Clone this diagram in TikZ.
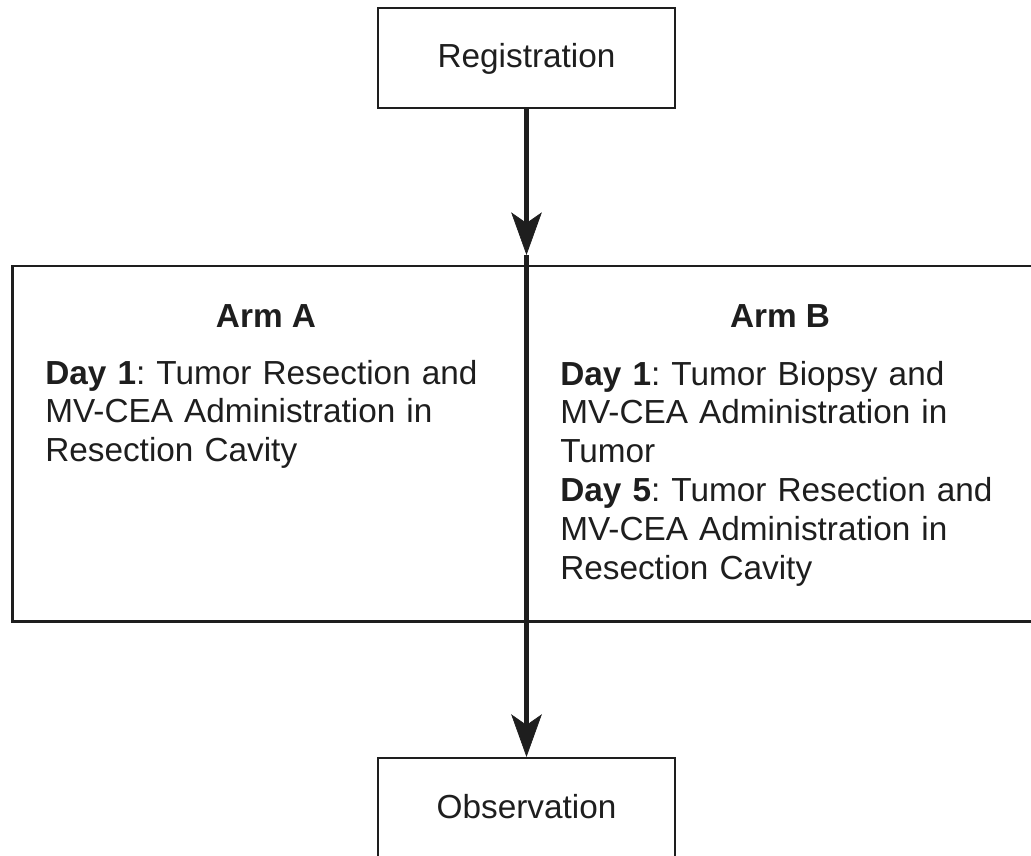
\documentclass[tikz,border=0pt]{standalone}
\usepackage{fontspec}
\setmainfont{Liberation Sans}
\usepackage{tikz}
\usetikzlibrary{arrows.meta}
\frenchspacing

\definecolor{ink}{HTML}{1E1E1E}
\tikzset{
  stage/.style={draw=ink, text=ink, line width=1.6pt, inner sep=0pt, minimum width=222.75pt, minimum height=75pt, text height=18pt, text depth=3pt, font=\fontsize{25}{30}\selectfont},
  armbox/.style={draw=ink, line width=1.6pt, inner sep=0pt},
  armtitle/.style={text=ink, inner sep=0pt, anchor=base, font=\fontsize{25}{30}\selectfont\bfseries},
  armtext/.style={text=ink, inner sep=0pt, anchor=base west, text width=345pt, align=left, font=\fontsize{25}{29.1}\selectfont},
  flow/.style={draw=ink, line width=3.3pt, arrows={-Stealth[length=32pt, width=23pt, inset=8pt, line width=0.5pt]}}
}

\begin{document}
\begin{tikzpicture}[x={(0.75pt,0)}, y={(0,-0.75pt)}]
  \useasboundingbox (0,0) rectangle (1031,856);
  \node[stage] (reg) at (526.5,58) {Registration};
  \node[stage] (obs) at (526.5,808) {Observation};
  % right edge of the arm box runs past the page
  \node[armbox, minimum width=770.6pt, minimum height=266.6pt] (arms) at (526.25,443.75) {};
  \node[armtitle] (armA) at (266,327) {Arm A};
  \node[armtitle] (armB) at (780,327) {Arm B};
  \node[armtext] (dayA) at (45,384) {\textbf{Day 1}: Tumor Resection and\\MV-CEA Administration in\\Resection Cavity};
  \node[armtext] (dayB) at (560,385) {\textbf{Day 1}: Tumor Biopsy and\\MV-CEA Administration in\\Tumor\\\textbf{Day 5}: Tumor Resection and\\MV-CEA Administration in\\Resection Cavity};
  \coordinate (tipA) at (526.5,255);
  \draw[flow] (reg) -- (tipA);
  \draw[flow] (tipA) -- (obs);
\end{tikzpicture}
\end{document}
